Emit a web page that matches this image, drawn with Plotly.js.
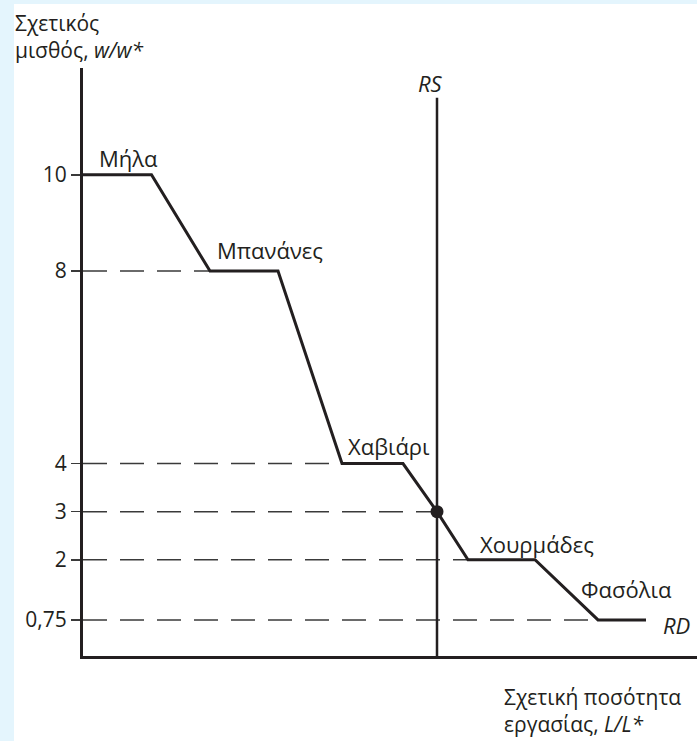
<!DOCTYPE html>
<html>
<head>
<meta charset="utf-8">
<script src="https://cdn.plot.ly/plotly-3.0.1.min.js"></script>
<style>
  html, body { margin: 0; padding: 0; background: #e4f5fd; width: 697px; height: 741px; overflow: hidden; }
  #chart { position: absolute; left: 14px; top: 4px; width: 683px; height: 737px; background: #ffffff; }
</style>
</head>
<body>
<div id="chart"></div>
<script>
// Relative demand curve RD (x = relative labour quantity L/L*, y = relative wage w/w*)
const rdX = [0, 6.85, 12.7, 19.5, 25.9, 32.0, 35.4, 38.5, 45.2, 51.5, 56.3];
const rdY = [10, 10, 8, 8, 4, 4, 3, 2, 2, 0.75, 0.75];

// Relative supply RS (vertical)
const rsX = [35.4, 35.4];
const rsY = [0, 11.6];

// Equilibrium point
const eqX = [35.4];
const eqY = [3];

// Dashed guide levels and where each ends on the curve
const guideLevels = [8, 4, 3, 2, 0.75];
const guideEnds = [12.7, 25.9, 35.4, 38.5, 51.5];

// Y tick values and labels
const yTickVals = [10, 8, 4, 3, 2, 0.75];
const yTickText = ["10", "8", "4", "3", "2", "0,75"];

// Goods labels
const goodNames = ["Μήλα", "Μπανάνες", "Χαβιάρι", "Χουρμάδες", "Φασόλια"];
const goodX = [4.5, 18.7, 30.6, 45.4, 54.3];
const goodY = [10.35, 8.44, 4.37, 2.33, 1.39];

// Axis titles
const yTitle = "Σχετικός<br>μισθός, <i>w/w*</i>";
const xTitle = "Σχετική ποσότητα<br>εργασίας, <i>L/L*</i>";

const FONT = "Open Sans, Noto Sans, sans-serif";
const INK = "#231f20";

// Build dashed guide trace
const gx = [], gy = [];
guideLevels.forEach((lv, i) => { gx.push(0, guideEnds[i], null); gy.push(lv, lv, null); });

const traces = [
  { x: gx, y: gy, mode: "lines", line: { color: "#3a3a3a", width: 1.5, dash: "24px,13px" }, hoverinfo: "skip", showlegend: false },
  { x: rsX, y: rsY, mode: "lines", line: { color: INK, width: 2.5 }, hoverinfo: "skip", showlegend: false },
  { x: rdX, y: rdY, mode: "lines", line: { color: INK, width: 3 }, hoverinfo: "skip", showlegend: false },
  { x: eqX, y: eqY, mode: "markers", marker: { color: INK, size: 13 }, hoverinfo: "skip", showlegend: false, cliponaxis: false }
];

const LBL = 22;
const annotations = goodNames.map((t, i) => ({
  x: goodX[i], y: goodY[i], xref: "x", yref: "y", text: t, showarrow: false,
  font: { family: FONT, size: LBL, color: INK }, xanchor: "center", yanchor: "middle"
}));
annotations.push(
  { x: 59.3, y: 0.64, xref: "x", yref: "y", text: "<i>RD</i>", showarrow: false,
    font: { family: FONT, size: LBL, color: INK }, xanchor: "center", yanchor: "middle" },
  { x: 34.7, y: 11.9, xref: "x", yref: "y", text: "<i>RS</i>", showarrow: false,
    font: { family: FONT, size: LBL, color: INK }, xanchor: "center", yanchor: "middle" },
  { x: -0.114, y: 1.104, xref: "paper", yref: "paper", text: yTitle, showarrow: false, align: "left",
    font: { family: FONT, size: 21, color: INK }, xanchor: "left", yanchor: "top" },
  { x: 0.682, y: -0.043, xref: "paper", yref: "paper", text: xTitle, showarrow: false, align: "left",
    font: { family: FONT, size: 21, color: INK }, xanchor: "left", yanchor: "top" }
);

const layout = {
  width: 683, height: 737,
  margin: { l: 69, r: 0, t: 64, b: 85 },
  paper_bgcolor: "#ffffff", plot_bgcolor: "#ffffff",
  showlegend: false,
  xaxis: {
    range: [0, 61.4], showgrid: false, zeroline: false, showticklabels: false, ticks: "",
    showline: true, linecolor: INK, linewidth: 3, fixedrange: true
  },
  yaxis: {
    range: [0, 12.22], showgrid: false, zeroline: false,
    tickmode: "array", tickvals: yTickVals, ticktext: yTickText,
    ticks: "outside", ticklen: 9, tickwidth: 1.5, tickcolor: "#3a3a3a",
    tickfont: { family: FONT, size: 21, color: INK },
    showline: true, linecolor: INK, linewidth: 3, fixedrange: true
  },
  annotations: annotations
};

Plotly.newPlot("chart", traces, layout, { displayModeBar: false, staticPlot: true });
</script>
</body>
</html>
